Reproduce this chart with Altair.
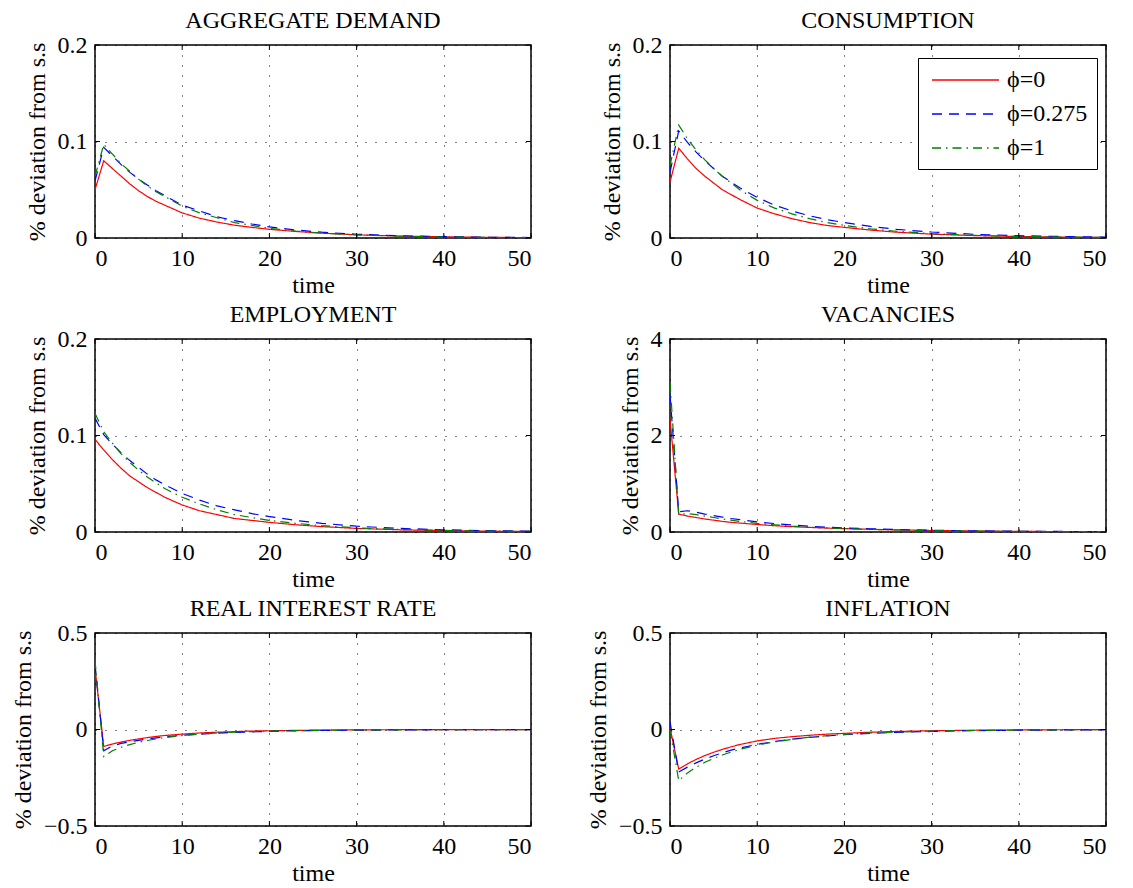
import altair as alt
import pandas as pd

# ---------------- data ----------------
T = [0, 1, 2, 3, 4, 5, 6, 7, 8, 10, 12, 14, 16, 18, 20, 23, 26, 30, 35, 40, 45, 50]
SERIES = ["ϕ=0", "ϕ=0.275", "ϕ=1"]
COLORS = ["#ff0000", "#0000ff", "#008000"]

AD_P0 = [0.050, 0.080, 0.072, 0.064, 0.056, 0.049, 0.043, 0.038, 0.034, 0.026, 0.0205, 0.0165, 0.0133, 0.011, 0.009, 0.0068, 0.005, 0.0033, 0.002, 0.0012, 0.0007, 0.0004]
AD_P275 = [0.059, 0.094, 0.085, 0.076, 0.068, 0.061, 0.055, 0.049, 0.044, 0.034, 0.028, 0.022, 0.018, 0.0145, 0.0115, 0.0083, 0.006, 0.0039, 0.0023, 0.0014, 0.0008, 0.0005]
AD_P1 = [0.064, 0.097, 0.087, 0.077, 0.069, 0.061, 0.054, 0.048, 0.043, 0.033, 0.026, 0.021, 0.016, 0.013, 0.010, 0.0072, 0.0051, 0.0032, 0.0018, 0.001, 0.0006, 0.0003]

C_P0 = [0.058, 0.093, 0.082, 0.072, 0.064, 0.057, 0.050, 0.045, 0.040, 0.031, 0.025, 0.020, 0.016, 0.013, 0.011, 0.0082, 0.006, 0.004, 0.0025, 0.0015, 0.0009, 0.0006]
C_P275 = [0.068, 0.111, 0.099, 0.089, 0.080, 0.072, 0.064, 0.058, 0.052, 0.042, 0.034, 0.028, 0.023, 0.019, 0.016, 0.012, 0.009, 0.0062, 0.0038, 0.0024, 0.0015, 0.0009]
C_P1 = [0.075, 0.117, 0.103, 0.091, 0.081, 0.072, 0.064, 0.057, 0.050, 0.039, 0.031, 0.025, 0.020, 0.016, 0.013, 0.0095, 0.007, 0.0045, 0.0027, 0.0016, 0.001, 0.0006]

E_P0 = [0.096, 0.085, 0.075, 0.066, 0.058, 0.052, 0.046, 0.041, 0.036, 0.028, 0.022, 0.018, 0.014, 0.012, 0.010, 0.0075, 0.0056, 0.0037, 0.0023, 0.0014, 0.0009, 0.0005]
E_P275 = [0.118, 0.101, 0.091, 0.082, 0.074, 0.067, 0.060, 0.054, 0.049, 0.040, 0.033, 0.027, 0.023, 0.019, 0.016, 0.012, 0.009, 0.006, 0.0037, 0.0023, 0.0014, 0.0009]
E_P1 = [0.123, 0.104, 0.092, 0.081, 0.072, 0.064, 0.057, 0.051, 0.045, 0.036, 0.029, 0.023, 0.018, 0.015, 0.012, 0.009, 0.0066, 0.0043, 0.0026, 0.0016, 0.001, 0.0006]

V_P0 = [2.35, 0.37, 0.33, 0.30, 0.27, 0.245, 0.22, 0.20, 0.185, 0.155, 0.13, 0.11, 0.095, 0.08, 0.07, 0.055, 0.043, 0.031, 0.02, 0.013, 0.009, 0.006]
V_P275 = [2.85, 0.42, 0.44, 0.41, 0.37, 0.34, 0.31, 0.28, 0.255, 0.21, 0.175, 0.145, 0.12, 0.10, 0.085, 0.066, 0.051, 0.036, 0.024, 0.016, 0.011, 0.007]
V_P1 = [3.1, 0.36, 0.38, 0.36, 0.33, 0.30, 0.27, 0.245, 0.22, 0.18, 0.15, 0.12, 0.10, 0.085, 0.07, 0.054, 0.041, 0.029, 0.018, 0.012, 0.008, 0.005]

R_P0 = [0.32, -0.088, -0.075, -0.065, -0.056, -0.049, -0.042, -0.036, -0.031, -0.024, -0.018, -0.014, -0.011, -0.008, -0.0065, -0.0045, -0.003, -0.002, -0.001, -0.0006, -0.0003, -0.0002]
R_P275 = [0.34, -0.11, -0.085, -0.072, -0.063, -0.056, -0.049, -0.043, -0.038, -0.030, -0.024, -0.019, -0.015, -0.012, -0.0095, -0.007, -0.005, -0.0033, -0.002, -0.0012, -0.0007, -0.0004]
R_P1 = [0.36, -0.14, -0.11, -0.092, -0.078, -0.066, -0.057, -0.049, -0.042, -0.031, -0.024, -0.018, -0.014, -0.011, -0.0085, -0.006, -0.004, -0.0025, -0.0015, -0.0009, -0.0005, -0.0003]

I_P0 = [0.01, -0.205, -0.178, -0.155, -0.135, -0.118, -0.103, -0.09, -0.078, -0.059, -0.046, -0.037, -0.030, -0.024, -0.020, -0.014, -0.010, -0.0065, -0.0038, -0.0022, -0.0013, -0.0008]
I_P275 = [0.04, -0.22, -0.195, -0.173, -0.153, -0.136, -0.121, -0.107, -0.096, -0.077, -0.062, -0.05, -0.041, -0.033, -0.027, -0.02, -0.015, -0.01, -0.006, -0.0036, -0.0022, -0.0013]
I_P1 = [0.0, -0.265, -0.225, -0.195, -0.17, -0.15, -0.132, -0.117, -0.103, -0.081, -0.064, -0.051, -0.04, -0.032, -0.025, -0.018, -0.013, -0.008, -0.0045, -0.0026, -0.0015, -0.0009]

X_TICKS = [0, 10, 20, 30, 40, 50]

PANELS = [
    ("AGGREGATE DEMAND", [AD_P0, AD_P275, AD_P1], [0, 0.1, 0.2]),
    ("CONSUMPTION", [C_P0, C_P275, C_P1], [0, 0.1, 0.2]),
    ("EMPLOYMENT", [E_P0, E_P275, E_P1], [0, 0.1, 0.2]),
    ("VACANCIES", [V_P0, V_P275, V_P1], [0, 2, 4]),
    ("REAL INTEREST RATE", [R_P0, R_P275, R_P1], [-0.5, 0, 0.5]),
    ("INFLATION", [I_P0, I_P275, I_P1], [-0.5, 0, 0.5]),
]

# ---------------- styling ----------------
FONT = "Liberation Serif"
FS = 24
W, H = 436, 193
TICK = 5
DASHES = [[1, 0], [10, 7], [9, 5, 1.5, 5]]

AXIS_STYLE = dict(
    grid=True, ticks=False, domain=False, format="~g",
    labelFont=FONT, titleFont=FONT, labelFontSize=FS, titleFontSize=FS,
    titleFontWeight="normal", labelColor="black", titleColor="black",
    gridColor="black", gridOpacity=1, gridWidth=1, gridDash=[1, 9],
)


def panel(title, series, yticks, show_legend):
    rows = []
    for name, vals in zip(SERIES, series):
        for t, v in zip(T, vals):
            rows.append({"t": t, "v": v, "s": name})
    df = pd.DataFrame(rows)

    xscale = alt.Scale(domain=[0, 50], nice=False, zero=False)
    yscale = alt.Scale(domain=[yticks[0], yticks[-1]], nice=False, zero=False)

    if show_legend:
        legend = alt.Legend(
            title=None, orient="none", legendX=248, legendY=13,
            symbolType="M-0.667,0H4.917", symbolSize=576, symbolStrokeWidth=1.3,
            labelFont=FONT, labelFontSize=FS, labelColor="black",
            strokeColor="black", fillColor="white", padding=9,
            labelOffset=54, rowPadding=9,
        )
    else:
        legend = None

    lines = alt.Chart(df).mark_line(strokeWidth=1.2, clip=True).encode(
        x=alt.X("t:Q", scale=xscale, axis=alt.Axis(
            values=X_TICKS, title="time", labelPadding=8, titlePadding=3,
            **AXIS_STYLE)),
        y=alt.Y("v:Q", scale=yscale, axis=alt.Axis(
            values=yticks, title="% deviation from s.s", labelPadding=8,
            titlePadding=8, **AXIS_STYLE)),
        color=alt.Color("s:N", scale=alt.Scale(domain=SERIES, range=COLORS),
                        legend=legend),
        strokeDash=alt.StrokeDash("s:N", scale=alt.Scale(domain=SERIES, range=DASHES),
                                  legend=legend),
        order=alt.Order("t:Q"),
    )

    xt = pd.DataFrame({"t": X_TICKS})
    yt = pd.DataFrame({"v": yticks})
    xb = alt.Chart(xt).mark_rule(color="black", strokeWidth=1).encode(
        x=alt.X("t:Q"), y=alt.value(H), y2=alt.value(H - TICK))
    xtop = alt.Chart(xt).mark_rule(color="black", strokeWidth=1).encode(
        x=alt.X("t:Q"), y=alt.value(0), y2=alt.value(TICK))
    yl = alt.Chart(yt).mark_rule(color="black", strokeWidth=1).encode(
        y=alt.Y("v:Q"), x=alt.value(0), x2=alt.value(TICK))
    yr = alt.Chart(yt).mark_rule(color="black", strokeWidth=1).encode(
        y=alt.Y("v:Q"), x=alt.value(W), x2=alt.value(W - TICK))

    return alt.layer(lines, xb, xtop, yl, yr).properties(
        width=W, height=H,
        title=alt.TitleParams(title, font=FONT, fontSize=FS, fontWeight="normal",
                              color="black", offset=0),
    )


charts = [panel(t, s, y, i == 1) for i, (t, s, y) in enumerate(PANELS)]

chart = alt.concat(
    *charts, columns=2, spacing={"row": 101, "column": 139}, bounds="flush"
).resolve_scale(
    x="independent", y="independent", color="independent", strokeDash="independent"
).properties(
    padding={"left": 2, "top": 0, "right": 5, "bottom": 0},
    background="white",
).configure_view(
    stroke="black", strokeWidth=1.5
)

chart.save("out.html", embed_options={"renderer": "svg", "actions": False})
